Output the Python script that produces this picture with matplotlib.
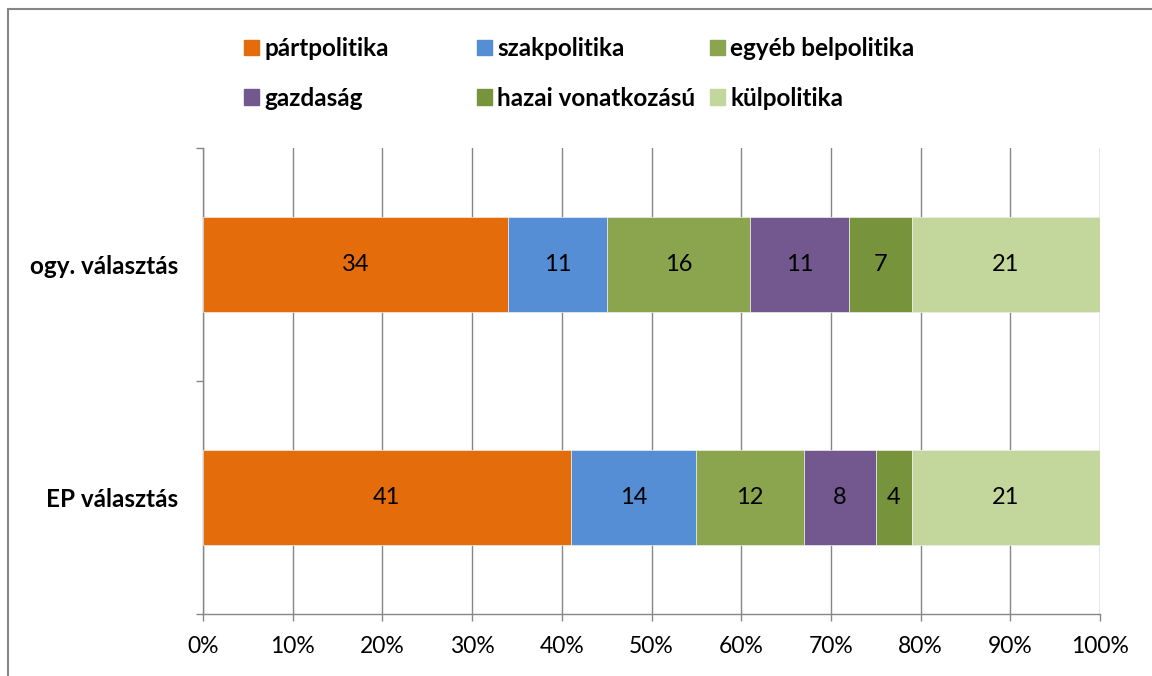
import matplotlib.pyplot as plt
import matplotlib.patches as mpatches
import numpy as np

plt.rcParams['font.family'] = ['Lato', 'DejaVu Sans']

# data
categories = ['EP választás', 'ogy. választás']
series = ['pártpolitika', 'szakpolitika', 'egyéb belpolitika',
          'gazdaság', 'hazai vonatkozású', 'külpolitika']
values = {
    'pártpolitika':      [41, 34],
    'szakpolitika':      [14, 11],
    'egyéb belpolitika': [12, 16],
    'gazdaság':          [8, 11],
    'hazai vonatkozású': [4, 7],
    'külpolitika':       [21, 21],
}
colors = ['#E46C0A', '#558ED5', '#8AA54E', '#72588E', '#77933C', '#C3D69B']
xticklabels = ['0%', '10%', '20%', '30%', '40%', '50%',
               '60%', '70%', '80%', '90%', '100%']

fig = plt.figure(figsize=(11.52, 6.76), dpi=100)
ax = fig.add_axes([203 / 1152, 1 - 614 / 676, 897 / 1152, 466 / 676])

ypos = np.array([0.5, 1.5])
left = np.zeros(len(categories))
handles = []
for name, col in zip(series, colors):
    vals = np.array(values[name])
    bars = ax.barh(ypos, vals / 100, left=left, height=0.405, color=col,
                   edgecolor='#eeeeee', linewidth=0.5, zorder=3)
    for b, v in zip(bars, vals):
        ax.text(b.get_x() + b.get_width() / 2, b.get_y() + b.get_height() / 2,
                str(v), ha='center', va='center', fontsize=17, zorder=4)
    left += vals / 100
    handles.append(mpatches.Patch(color=col, label=name))

ax.set_xlim(0, 1)
ax.set_ylim(0, 2)
ax.set_xticks(np.linspace(0, 1, 11))
ax.set_xticklabels(xticklabels, fontsize=16.5)
ax.set_yticks(ypos)
ax.set_yticklabels(categories, fontsize=17.5, fontweight='bold')
ax.set_yticks([0, 1, 2], minor=True)
ax.tick_params(axis='y', which='major', length=0, pad=18)
ax.tick_params(axis='y', which='minor', length=5, color='#868686', width=1)
ax.tick_params(axis='x', length=5, color='#868686', width=1, pad=11)
ax.grid(axis='x', color='#868686', linewidth=1, zorder=0)
for s in ['top', 'right']:
    ax.spines[s].set_visible(False)
for s in ['left', 'bottom']:
    ax.spines[s].set_color('#868686')
    ax.spines[s].set_linewidth(1)

# legend, three evenly spaced columns placed separately
col_x = [244 / 1152, 477 / 1152, 710 / 1152]
for i, x in enumerate(col_x):
    fig.legend(handles=[handles[i], handles[i + 3]], loc='upper left',
               bbox_to_anchor=(x, 1 - 37 / 676), frameon=False,
               prop={'size': 17.5, 'weight': 'bold'},
               handlelength=0.62, handleheight=0.62, handletextpad=0.22,
               labelspacing=1.1, borderpad=0, borderaxespad=0)

# outer chart border (cropped at right and bottom)
fig.patches.append(mpatches.Rectangle((8 / 1152, -0.1), 2, 1.1 - 9 / 676,
                                      transform=fig.transFigure, fill=False,
                                      edgecolor='#868686', linewidth=1.5))

fig.savefig('out.png', dpi=100)
